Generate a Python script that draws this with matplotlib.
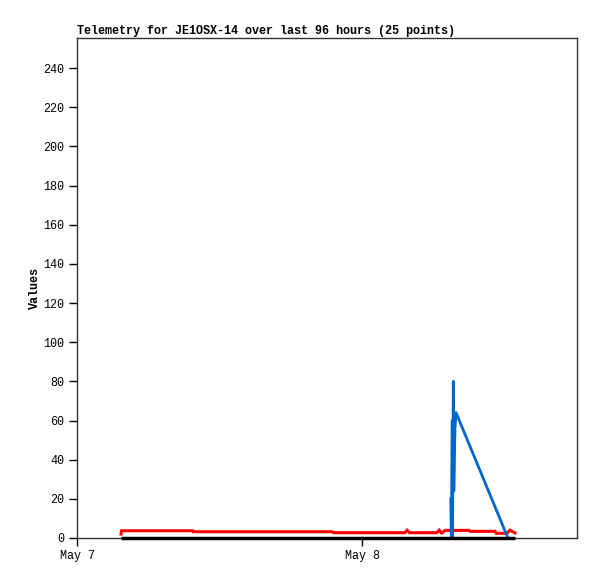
import matplotlib
matplotlib.use("Agg")
import matplotlib.pyplot as plt

# hours since May 7 00:00
red_t = [3.71, 3.75, 9.75, 9.8, 21.5, 21.6, 27.6, 27.8, 28.0, 30.3, 30.5, 30.7,
         31.0, 33.0, 33.1, 35.2, 35.3, 36.2, 36.45, 36.7, 36.88]
red_v = [2.0, 3.7, 3.7, 3.2, 3.2, 2.7, 2.7, 4.0, 2.7, 2.7, 4.0, 2.5,
         3.9, 3.9, 3.4, 3.4, 2.4, 2.4, 4.0, 3.2, 2.6]

black_t = [3.71, 36.88]
black_v = [0, 0]

blue_t = [31.48, 31.52, 31.60, 31.62, 31.69, 31.73, 31.83, 31.92, 36.29]
blue_v = [20, 0, 60, 0, 80, 24, 56, 64, 0]

day_ticks = [0, 24]
day_labels = ["May 7", "May 8"]
y_ticks = list(range(0, 241, 20))

plt.rcParams["font.family"] = ["Liberation Mono", "DejaVu Sans Mono"]

fig = plt.figure(figsize=(5.97, 5.79), dpi=100)
ax = fig.add_axes([77 / 597, 1 - 538 / 579, 500 / 597, 500 / 579])

ax.plot(black_t, black_v, color="black", lw=2.5, solid_capstyle="butt",
        clip_on=False, zorder=3)
ax.plot(red_t, red_v, color="#ff0000", lw=2.2, solid_joinstyle="miter")
ax.plot(blue_t, blue_v, color="#0066cc", lw=2.0)

ax.set_xlim(0, 500 / 285 * 24)
ax.set_ylim(0, 500 / 1.958)
ax.set_xticks(day_ticks)
ax.set_xticklabels(day_labels)
ax.set_yticks(y_ticks)
ax.tick_params(direction="out", length=6, width=1, labelsize=8.5, pad=3)

for s in ax.spines.values():
    s.set_color("#333333")
    s.set_linewidth(1)

ax.set_ylabel("Values", fontsize=8.5, fontweight="bold", labelpad=2)
ax.set_title("Telemetry for JE1OSX-14 over last 96 hours (25 points)",
             loc="left", fontsize=8.5, fontweight="bold", pad=3)

fig.savefig("out.png", dpi=100)
